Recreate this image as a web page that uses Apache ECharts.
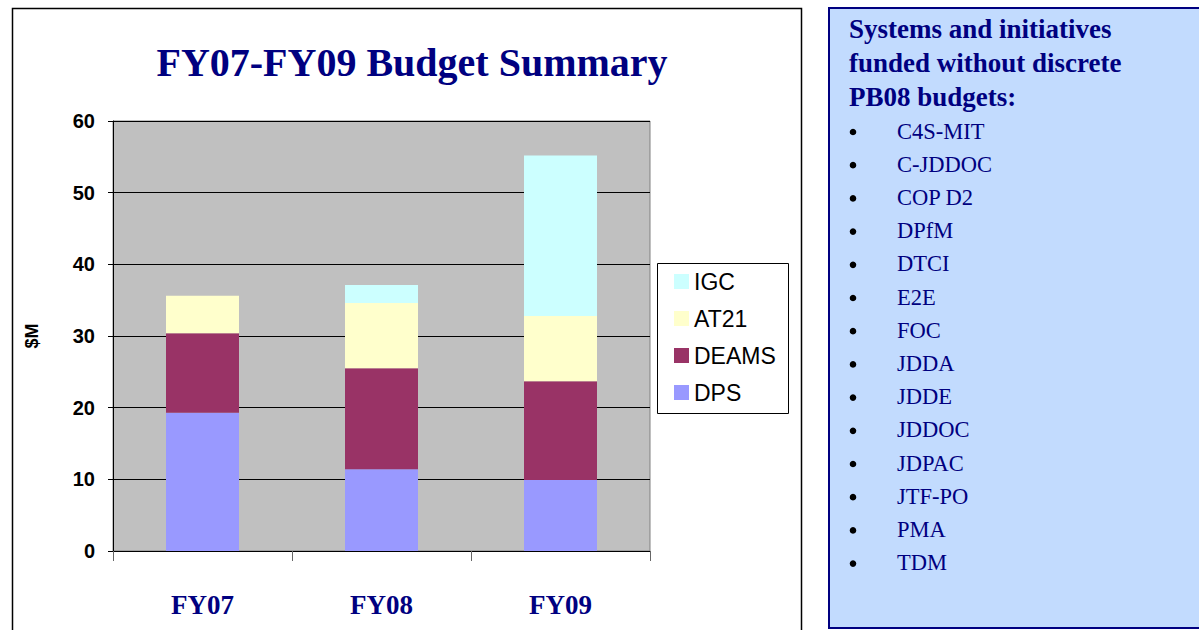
<!DOCTYPE html>
<html>
<head>
<meta charset="utf-8">
<script src="https://cdn.jsdelivr.net/npm/echarts@6/dist/echarts.min.js"></script>
<style>
html,body{margin:0;padding:0;background:#fff;}
#chart{width:1199px;height:630px;}
</style>
</head>
<body>
<div id="chart"></div>
<script>
const categories = ['FY07', 'FY08', 'FY09'];
const dps = [19.3, 11.4, 9.9];
const deams = [11.1, 14.1, 13.8];
const at21 = [5.2, 9.1, 9.1];
const igc = [0, 2.5, 22.4];
const yTicks = [0, 10, 20, 30, 40, 50, 60];
const panelTitle = ['Systems and initiatives', 'funded without discrete', 'PB08 budgets:'];
const panelItems = ['C4S-MIT', 'C-JDDOC', 'COP D2', 'DPfM', 'DTCI', 'E2E', 'FOC', 'JDDA', 'JDDE', 'JDDOC', 'JDPAC', 'JTF-PO', 'PMA', 'TDM'];

const chart = echarts.init(document.getElementById('chart'), null, {renderer: 'svg'});
const serif = '"Liberation Serif", "DejaVu Serif", serif';
const sans = '"Liberation Sans", Arial, sans-serif';
const navy = '#000080';

const graphics = [
  {type: 'rect', shape: {x: 12.5, y: 8.5, width: 789, height: 640}, style: {fill: 'none', stroke: '#000', lineWidth: 1.5}, z: 0},
  {type: 'rect', shape: {x: 829, y: 8, width: 400, height: 620}, style: {fill: '#C2DBFE', stroke: navy, lineWidth: 2}, z: 0},
  {type: 'rect', shape: {x: 657.5, y: 263.5, width: 131, height: 150}, style: {fill: '#fff', stroke: '#000', lineWidth: 1}, z: 1}
];
panelTitle.forEach((t, i) => {
  graphics.push({type: 'text', left: 849, top: 15 + i * 34, z: 2,
    style: {text: t, font: 'bold 27px ' + serif, fill: navy}});
});
panelItems.forEach((t, i) => {
  const cy = 131 + i * 33.2;
  graphics.push({type: 'circle', shape: {cx: 853, cy: cy + 1, r: 3.3}, style: {fill: '#000'}, z: 2});
  graphics.push({type: 'text', x: 897, y: cy, z: 2,
    style: {text: t, font: '22.5px ' + serif, fill: navy, textVerticalAlign: 'middle', verticalAlign: 'middle'}});
});

function mk(name, data, color) {
  return {name: name, type: 'bar', stack: 'total', data: data, barWidth: 73,
    itemStyle: {color: color}, emphasis: {disabled: true}};
}

chart.setOption({
  animation: false,
  title: {text: 'FY07-FY09 Budget Summary', left: 407, textAlign: 'center', top: 37,
    textStyle: {fontFamily: serif, fontWeight: 'bold', fontSize: 40, color: navy}},
  grid: {left: 113, right: 549, top: 121, bottom: 79, show: true, backgroundColor: '#C0C0C0', borderColor: '#808080', borderWidth: 1},
  legend: {orient: 'vertical', left: 674, top: 270, padding: 0, itemWidth: 15, itemHeight: 15, itemGap: 14,
    icon: 'rect', data: ['IGC', 'AT21', 'DEAMS', 'DPS'],
    textStyle: {fontFamily: sans, fontSize: 23, color: '#000'}},
  xAxis: {type: 'category', data: categories,
    axisLine: {lineStyle: {color: '#000', width: 1}},
    axisTick: {show: true, length: 10, lineStyle: {color: '#666'}},
    axisLabel: {margin: 40, fontFamily: serif, fontWeight: 'bold', fontSize: 27, color: navy}},
  yAxis: {type: 'value', min: 0, max: 60, interval: 10, name: '$M', nameLocation: 'middle', nameGap: 72, nameRotate: 90,
    nameTextStyle: {fontFamily: sans, fontWeight: 'bold', fontSize: 18, color: '#000'},
    axisLine: {show: true, lineStyle: {color: '#000'}},
    axisTick: {show: true, length: 5, lineStyle: {color: '#000'}},
    axisLabel: {margin: 18, fontFamily: sans, fontWeight: 'bold', fontSize: 20, color: '#000',
      formatter: v => yTicks.includes(v) ? String(v) : ''},
    splitLine: {lineStyle: {color: '#000', width: 1}}},
  series: [
    mk('DPS', dps, '#9999FF'),
    mk('DEAMS', deams, '#993366'),
    mk('AT21', at21, '#FFFFCC'),
    mk('IGC', igc, '#CCFFFF')
  ],
  graphic: graphics
});
</script>
</body>
</html>
